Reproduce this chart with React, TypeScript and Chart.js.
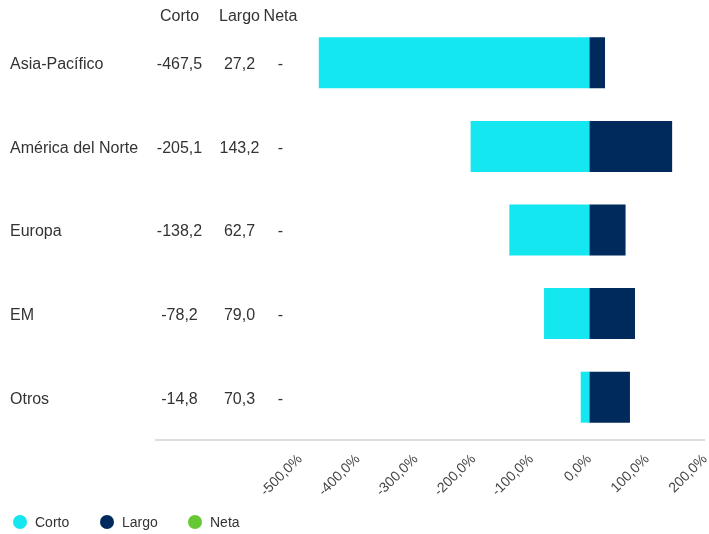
import React, { useEffect, useRef } from "react";
import { Chart, registerables } from "chart.js";

Chart.register(...registerables);

const categories = ["Asia-Pacífico", "América del Norte", "Europa", "EM", "Otros"];
const cortoValues = [-467.5, -205.1, -138.2, -78.2, -14.8];
const largoValues = [27.2, 143.2, 62.7, 79.0, 70.3];
const netaValues: (number | null)[] = [null, null, null, null, null];
const tableHeaders = ["Corto", "Largo", "Neta"];
const seriesNames = ["Corto", "Largo", "Neta"];
const seriesColors = ["#15E7F0", "#00295C", "#66C834"];

const FONT = "'Liberation Sans', Arial, sans-serif";
const TEXT = "#333333";

const fmt = (v: number | null) =>
  v === null ? "-" : v.toFixed(1).replace(".", ",");

const overlayPlugin = {
  id: "overlay",
  afterDraw(chart: any) {
    const ctx = chart.ctx;
    const y = chart.scales.y;
    const area = chart.chartArea;
    ctx.save();
    // axis line
    ctx.strokeStyle = "#dedede";
    ctx.lineWidth = 2;
    ctx.beginPath();
    ctx.moveTo(155, area.bottom + 1);
    ctx.lineTo(area.right, area.bottom + 1);
    ctx.stroke();

    ctx.font = `16px ${FONT}`;
    ctx.fillStyle = TEXT;
    ctx.textBaseline = "middle";
    const cols = [179.5, 239.5, 280.5];
    ctx.textAlign = "center";
    tableHeaders.forEach((h, i) => ctx.fillText(h, cols[i], 17));
    categories.forEach((c, i) => {
      const py = y.getPixelForValue(i) + 2;
      ctx.textAlign = "left";
      ctx.fillText(c, 10, py);
      ctx.textAlign = "center";
      ctx.fillText(fmt(cortoValues[i]), cols[0], py);
      ctx.fillText(fmt(largoValues[i]), cols[1], py);
      ctx.fillText(fmt(netaValues[i]), cols[2], py);
    });

    // legend
    ctx.font = `14px ${FONT}`;
    const lx = [20, 107, 195];
    const ly = 522;
    seriesNames.forEach((n, i) => {
      ctx.fillStyle = seriesColors[i];
      ctx.beginPath();
      ctx.arc(lx[i], ly, 7, 0, Math.PI * 2);
      ctx.fill();
      ctx.fillStyle = TEXT;
      ctx.textAlign = "left";
      ctx.fillText(n, lx[i] + 15, ly + 1);
    });
    ctx.restore();
  },
};

export default function App() {
  const ref = useRef<HTMLCanvasElement>(null);
  useEffect(() => {
    if (!ref.current) return;
    const chart = new Chart(ref.current, {
      type: "bar",
      data: {
        labels: categories,
        datasets: [
          { label: seriesNames[0], data: cortoValues, backgroundColor: seriesColors[0] },
          { label: seriesNames[1], data: largoValues, backgroundColor: seriesColors[1] },
          { label: seriesNames[2], data: netaValues as any, backgroundColor: seriesColors[2] },
        ],
      },
      options: {
        indexAxis: "y",
        animation: false,
        responsive: true,
        maintainAspectRatio: false,
        layout: { padding: { left: 300, top: 21, right: 4, bottom: 0 } },
        datasets: { bar: { categoryPercentage: 1, barPercentage: 0.61 } } as any,
        plugins: { legend: { display: false }, tooltip: { enabled: false } },
        scales: {
          x: {
            stacked: true,
            min: -500,
            max: 200,
            grid: { display: false },
            border: { display: false },
            ticks: {
              stepSize: 100,
              minRotation: 45,
              maxRotation: 45,
              color: "#444444",
              padding: 4,
              font: { size: 14, family: FONT },
              callback: (v: any) => `${Number(v).toFixed(1).replace(".", ",")}%`,
            },
            afterFit: (s: any) => {
              s.height = 95;
              s.paddingLeft = 0;
              s.paddingRight = 0;
            },
          },
          y: { stacked: true, display: false },
        },
      },
      plugins: [overlayPlugin],
    });
    return () => chart.destroy();
  }, []);
  return (
    <div style={{ position: "absolute", left: 0, top: 0, width: 709, height: 534 }}>
      <canvas ref={ref} />
    </div>
  );
}
